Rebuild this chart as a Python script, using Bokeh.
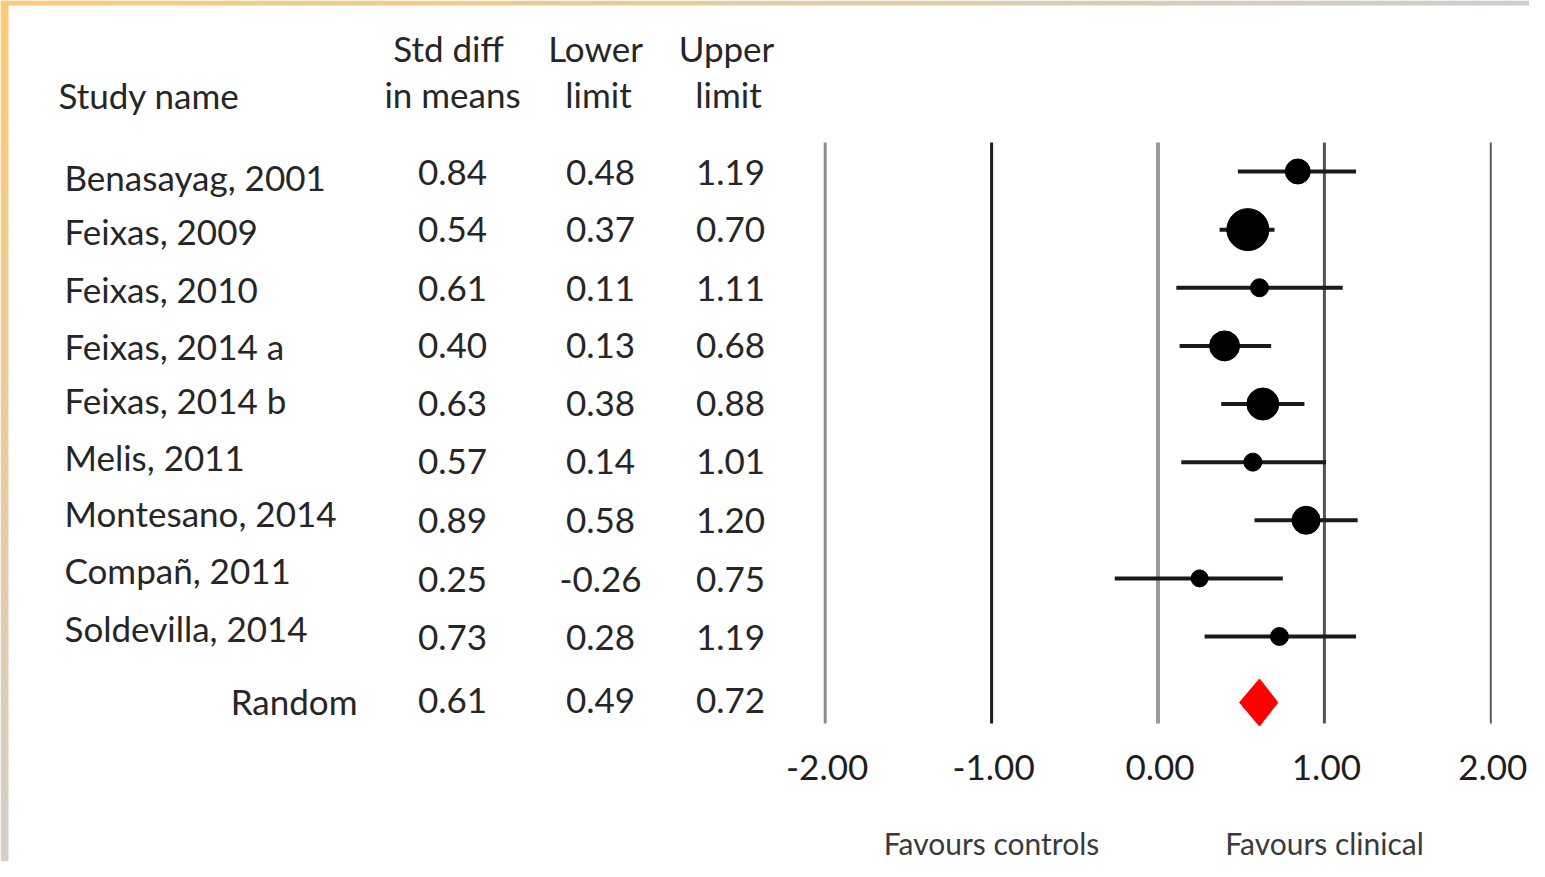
from bokeh.plotting import figure
from bokeh.models import ColumnDataSource, Range1d
from bokeh.core.properties import value
from bokeh.embed import file_html
from bokeh.resources import INLINE

# ---------------- data ----------------
studies = ["Benasayag, 2001", "Feixas, 2009", "Feixas, 2010", "Feixas, 2014 a",
           "Feixas, 2014 b", "Melis, 2011", "Montesano, 2014", "Compañ, 2011",
           "Soldevilla, 2014"]
std_diff = [0.84, 0.54, 0.61, 0.40, 0.63, 0.57, 0.89, 0.25, 0.73]
lower = [0.48, 0.37, 0.11, 0.13, 0.38, 0.14, 0.58, -0.26, 0.28]
upper = [1.19, 0.70, 1.11, 0.68, 0.88, 1.01, 1.20, 0.75, 1.19]
summary_label = "Random"
summary_est = 0.61
summary_low = 0.49
summary_up = 0.72
ticks = [-2, -1, 0, 1, 2]
tick_labels = ["-2.00", "-1.00", "0.00", "1.00", "2.00"]
left_label = "Favours controls"
right_label = "Favours clinical"

# ---------------- styles / layout ----------------
marker_sizes = [25, 42, 18, 30, 32, 18, 28, 17, 18]
vline_colors = ["#8c8c8c", "#1e1e1e", "#9a9a9a", "#555555", "#5a5a5a"]
vline_widths = [3, 3, 4, 3, 2]
FONT = value("Lato")
TXT = "#262626"
FS = "35px"
TOFF = 13                      # rendering offset of text baselines (px)

W, H = 1529, 861
X0, XS = 1157.5, 166.4        # picture px of 0 and px per unit
Y0, YS = 171.0, 58.125        # picture px of first row and px per row


def px2x(P):
    return (P - X0) / XS


def px2y(P):
    return (P - Y0) / YS


def ty(P):
    return px2y(P - TOFF)


p = figure(width=W, height=H, output_backend="svg", toolbar_location=None,
           x_range=Range1d(px2x(0), px2x(W)),
           y_range=Range1d(px2y(H), px2y(0)),
           min_border=0, min_border_left=0, min_border_right=0,
           min_border_top=0, min_border_bottom=0)
p.axis.visible = False
p.grid.visible = False
p.outline_line_color = None
p.background_fill_color = "white"
p.border_fill_color = "white"

# decorative gradient frame (top and left edges)
def mix(c1, c2, t):
    return "#%02x%02x%02x" % tuple(int(round(a + (b - a) * t)) for a, b in zip(c1, c2))

NSEG = 60
orange, grey_r, grey_b = (253, 203, 117), (204, 204, 204), (214, 206, 200)
tl, tr, tb, tt, tc = [], [], [], [], []
for k in range(NSEG):
    a, b = k / NSEG * W, (k + 1) / NSEG * W + 1
    tl.append(px2x(a)); tr.append(px2x(b)); tt.append(px2y(0)); tb.append(px2y(5))
    tc.append(mix(orange, grey_r, (k + 0.5) / NSEG))
for k in range(NSEG):
    a, b = k / NSEG * H, (k + 1) / NSEG * H + 1
    tl.append(px2x(0)); tr.append(px2x(8)); tt.append(px2y(a)); tb.append(px2y(b))
    tc.append(mix(orange, grey_b, (k + 0.5) / NSEG))
p.quad(left=tl, right=tr, top=tt, bottom=tb, fill_color=tc, line_color=None)

n = len(studies)
rows = list(range(n))
rand_y = px2y(702)

# vertical reference lines
p.segment(x0=ticks, x1=ticks, y0=[px2y(142)] * len(ticks), y1=[px2y(723)] * len(ticks),
          line_color=vline_colors, line_width=vline_widths)

# confidence intervals
src = ColumnDataSource(dict(y=rows, est=std_diff, lo=lower, hi=upper, size=marker_sizes))
p.segment(x0="lo", x1="hi", y0="y", y1="y", source=src, line_color="#1a1a1a", line_width=4)
p.scatter(x="est", y="y", size="size", marker="circle", source=src,
          fill_color="black", line_color="black")

# summary diamond
hh = 23.5 / YS
p.patch(x=[summary_low, summary_est, summary_up, summary_est],
        y=[rand_y, rand_y - hh, rand_y, rand_y + hh],
        fill_color="#ff0000", line_color="#ff0000", line_width=1)


def txt(xs, ys, texts, align="center", size=FS, color=TXT):
    p.text(x=xs, y=ys, text=texts, text_font=FONT, text_font_size=size,
           text_align=align, text_baseline="alphabetic", text_color=color)


# headers
txt([px2x(58)], [ty(107)], ["Study name"], align="left")
txt([px2x(448), px2x(595), px2x(726)], [ty(60)] * 3, ["Std diff", "Lower", "Upper"])
txt([px2x(452), px2x(598), px2x(728)], [ty(106)] * 3, ["in means", "limit", "limit"])

# study names
name_base = [189, 243, 301, 358, 412, 469, 525, 582, 640]
txt([px2x(64)] * n, [ty(b) for b in name_base], studies, align="left")
txt([px2x(357)], [ty(713)], [summary_label], align="right")

# numeric columns
val_base = [185, 242, 301, 358, 416, 474, 533, 592, 650]
fmt = lambda v: f"{v:.2f}"
txt([px2x(452)] * n, [ty(b) for b in val_base], [fmt(v) for v in std_diff])
txt([px2x(600)] * n, [ty(b) for b in val_base], [fmt(v) for v in lower])
txt([px2x(730)] * n, [ty(b) for b in val_base], [fmt(v) for v in upper])
txt([px2x(452), px2x(600), px2x(730)], [ty(713)] * 3,
    [fmt(summary_est), fmt(summary_low), fmt(summary_up)])

# tick labels
txt([t + px2x(1159.5) for t in ticks], [ty(780)] * len(ticks), tick_labels, color="#1e1e1e")

# favours labels
txt([px2x(991), px2x(1324)], [ty(855)] * 2, [left_label, right_label], size="30px", color="#3a3a3a")

open("out.html", "w").write(file_html(p, INLINE))
